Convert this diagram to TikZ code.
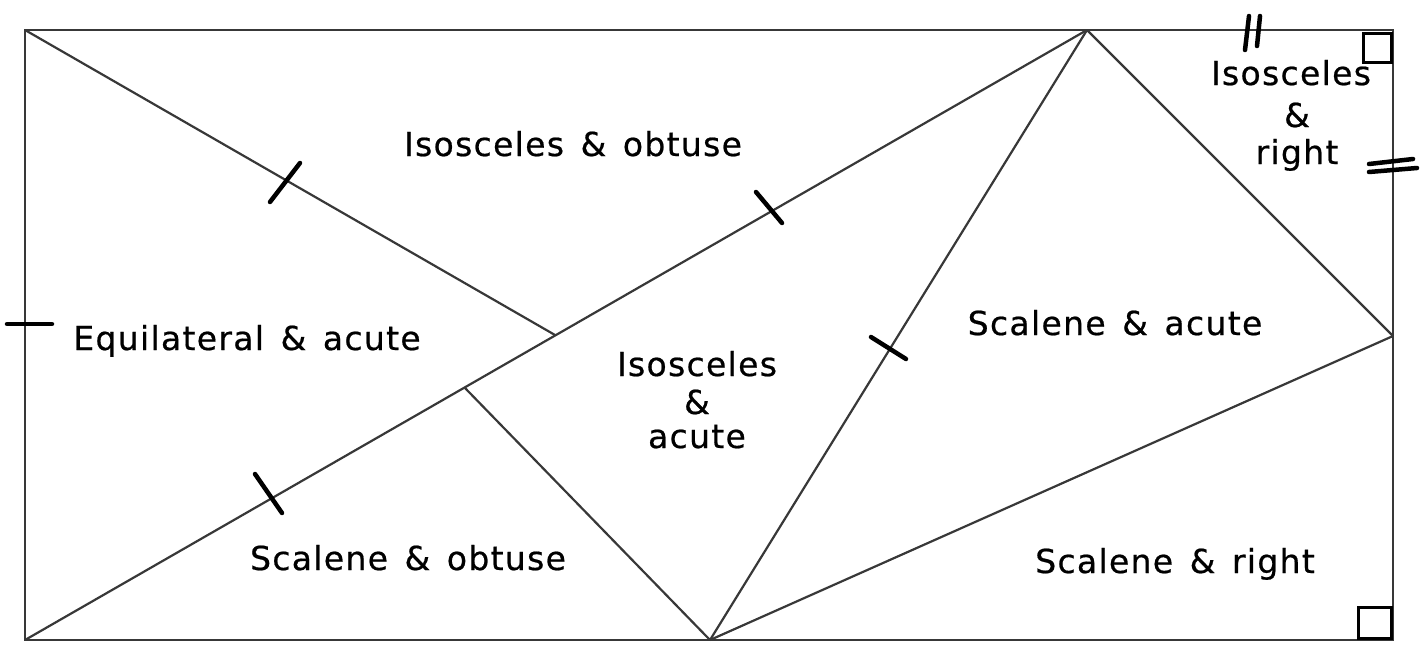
\documentclass[tikz,border=0pt]{standalone}
\usepackage{fontspec}
\setmainfont{DejaVu Sans}[LetterSpace=4,WordSpace=1.4,FakeBold=0.6]
\begin{document}
\begin{tikzpicture}[x=1pt,y=-1pt,
  edge/.style={draw=black!78,line width=2.2pt},
  tick/.style={draw=black,line width=4.5pt,line cap=round},
  rightmark/.style={draw=black,line width=3pt},
  lbl/.style={anchor=base,inner sep=0pt,font=\fontsize{33}{37}\selectfont}]
\useasboundingbox (0,0) rectangle (1426,653);
% vertices
\coordinate (TL) at (25,30);
\coordinate (TR) at (1393,30);
\coordinate (BR) at (1393,640);
\coordinate (BL) at (25,640);
\coordinate (T) at (1087,30);
\coordinate (B) at (710,640);
\coordinate (R) at (1393,336);
\coordinate (J) at (555,335);
\coordinate (K) at (465,388);
% lines
\draw[edge] (TL) rectangle (BR);
\draw[edge] (TL) -- (J);
\draw[edge] (BL) -- (T);
\draw[edge] (T) -- (B);
\draw[edge] (T) -- (R);
\draw[edge] (B) -- (R);
\draw[edge] (K) -- (B);
% right-angle marks
\draw[rightmark] (1363,33) rectangle (1391,62);
\draw[rightmark] (1358,607) rectangle (1391,638);
% ticks
\draw[tick] (270,202) -- (300,163);
\draw[tick] (756,192) -- (782,223);
\draw[tick] (871,337) -- (906,359);
\draw[tick] (255,474) -- (282,513);
\draw[tick] (7,324) -- (52,324);
\draw[tick] (1249,16) -- (1245,50);
\draw[tick] (1260,16) -- (1257,46);
\draw[tick] (1369,164) -- (1413,159);
\draw[tick] (1369,172) -- (1417,168);
% labels
\node[lbl] (io) at (573,156) {Isosceles \& obtuse};
\node[lbl] (ea) at (247,350) {Equilateral \& acute};
\node[lbl] (ia1) at (697,376) {Isosceles};
\node[lbl] (ia2) at (697,414) {\&};
\node[lbl] (ia3) at (697,448) {acute};
\node[lbl] (sa) at (1115,335) {Scalene \& acute};
\node[lbl] (so) at (408,570) {Scalene \& obtuse};
\node[lbl] (sr) at (1175,573) {Scalene \& right};
\node[lbl] (ir1) at (1291,85) {Isosceles};
\node[lbl] (ir2) at (1297,127) {\&};
\node[lbl] (ir3) at (1297,164) {right};
\end{tikzpicture}
\end{document}
